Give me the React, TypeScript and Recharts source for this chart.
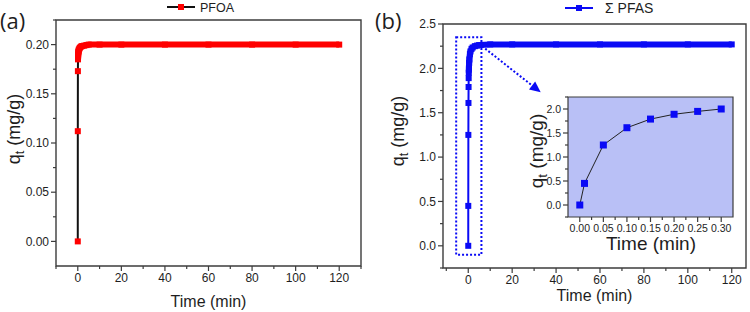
import React from "react";
import { LineChart, Line, XAxis, YAxis, ReferenceArea, ReferenceLine } from "recharts";

// sampling times (min) shared by both runs
const TIME = [0, 0.01, 0.05, 0.1, 0.15, 0.2, 0.25, 0.3, 0.4, 0.5, 0.75, 1, 1.5, 2, 3, 4, 5, 10, 20, 40, 60, 80, 100, 120];
// adsorbed amount q_t (mg/g)
const PFOA_Q = [0, 0.112, 0.173, 0.185, 0.188, 0.19, 0.192, 0.193, 0.194, 0.195, 0.196, 0.197, 0.198, 0.1985, 0.199, 0.1995, 0.2, 0.2, 0.2, 0.2, 0.2, 0.2, 0.2, 0.2];
const PFAS_Q = [0, 0.45, 1.25, 1.61, 1.79, 1.89, 1.95, 2.0, 2.06, 2.1, 2.16, 2.19, 2.22, 2.235, 2.25, 2.257, 2.262, 2.27, 2.27, 2.27, 2.27, 2.27, 2.27, 2.27];
// from this index on the markers are packed so tightly they read as a solid band
const PFOA_BAND_FROM = 3;
const PFAS_BAND_FROM = 6;
const INSET_COUNT = 8;

const X_MAJOR = [0, 20, 40, 60, 80, 100, 120];
const X_MINOR_A = [-10, 10, 30, 50, 70, 90, 110, 130];
const X_MINOR_B = [-10, 10, 30, 50, 70, 90, 110];
const A_Y_MAJOR = [0, 0.05, 0.1, 0.15, 0.2];
const A_Y_MINOR = [0.025, 0.075, 0.125, 0.175, 0.225];
const B_Y_MAJOR = [0, 0.5, 1, 1.5, 2, 2.5];
const B_Y_MINOR = [-0.25, 0.25, 0.75, 1.25, 1.75, 2.25];
const IN_X_MAJOR = [0, 0.05, 0.1, 0.15, 0.2, 0.25, 0.3];
const IN_X_MINOR = [0.025, 0.075, 0.125, 0.175, 0.225, 0.275];
const IN_Y_MAJOR = [0, 0.5, 1, 1.5, 2];
const IN_Y_MINOR = [-0.25, 0.25, 0.75, 1.25, 1.75, 2.25];

const FONT = "'Liberation Sans', Arial, sans-serif";
const AXIS = "#3c3c3c";
const TEXT = "#1e1e1e";
const RED = "#ff0000";
const BLUE = "#0a0af5";
const INSET_BG = "#b9c0f6";

const pfoaData = TIME.map((t, i) => ({ t, q: PFOA_Q[i], band: i >= PFOA_BAND_FROM ? PFOA_Q[i] : null }));
const pfasData = TIME.map((t, i) => ({ t, q: PFAS_Q[i], band: i >= PFAS_BAND_FROM ? PFAS_Q[i] : null }));
const insetData = pfasData.slice(0, INSET_COUNT);

const isIn = (v: number, arr: number[]) => arr.some((a) => Math.abs(a - v) < 1e-9);
const merged = (a: number[], b: number[]) => [...a, ...b].sort((m, n) => m - n);

function yTick(axisX: number, major: number[], digits: number, fontSize = 12) {
  return (p: any) => {
    const v = p.payload.value;
    const big = isIn(v, major);
    return (
      <g>
        <line x1={axisX - (big ? 5 : 3)} x2={axisX} y1={p.y} y2={p.y} stroke={AXIS} strokeWidth={1.2} />
        {big && (
          <text x={axisX - 7} y={p.y} dy="0.35em" textAnchor="end" fontSize={fontSize} fontFamily={FONT} fill={TEXT}>
            {v.toFixed(digits)}
          </text>
        )}
      </g>
    );
  };
}

function xTick(axisY: number, major: number[], digits: number, fontSize = 12) {
  return (p: any) => {
    const v = p.payload.value;
    const big = isIn(v, major);
    return (
      <g>
        <line x1={p.x} x2={p.x} y1={axisY} y2={axisY + (big ? 5 : 3)} stroke={AXIS} strokeWidth={1.2} />
        {big && (
          <text x={p.x} y={axisY + 7} dy="0.75em" textAnchor="middle" fontSize={fontSize} fontFamily={FONT} fill={TEXT}>
            {v.toFixed(digits)}
          </text>
        )}
      </g>
    );
  };
}

const square = (color: string, size: number) => (p: any) => {
  if (p.cy == null || p.cx == null) return <g key={`e${p.index}`} />;
  return <rect key={`s${p.index}`} x={p.cx - size / 2} y={p.cy - size / 2} width={size} height={size} fill={color} />;
};

// dotted arrow from the zoom box towards the inset
const DottedArrow = (p: any) => {
  const { x1, y1, x2, y2 } = p;
  const ang = Math.atan2(y2 - y1, x2 - x1);
  const len = 11;
  const w = 5;
  const bx = x2 - len * Math.cos(ang);
  const by = y2 - len * Math.sin(ang);
  const px = -Math.sin(ang) * w;
  const py = Math.cos(ang) * w;
  return (
    <g>
      <line x1={x1} y1={y1} x2={bx} y2={by} stroke={BLUE} strokeWidth={2} strokeDasharray="2 2" />
      <polygon points={`${x2},${y2} ${bx + px},${by + py} ${bx - px},${by - py}`} fill={BLUE} />
    </g>
  );
};

// plot boxes (chart-local pixels)
const A = { left: 56, top: 20, right: 361, bottom: 266 };
const B = { left: 68, top: 24, right: 371, bottom: 268 };
const IN = { left: 58, top: 17, right: 223, bottom: 137 };

function PanelA() {
  return (
    <LineChart
      width={375}
      height={312}
      data={pfoaData}
      margin={{ top: A.top, left: 0, right: 375 - A.right, bottom: 0 }}
    >
      <XAxis
        dataKey="t"
        type="number"
        domain={[-10, 130]}
        ticks={merged(X_MAJOR, X_MINOR_A)}
        interval={0}
        height={312 - A.bottom}
        axisLine={false}
        tickLine={false}
        tick={xTick(A.bottom, X_MAJOR, 0)}
      />
      <YAxis
        type="number"
        domain={[-0.025, 0.225]}
        ticks={merged(A_Y_MAJOR, A_Y_MINOR)}
        interval={0}
        width={A.left}
        axisLine={false}
        tickLine={false}
        tick={yTick(A.left, A_Y_MAJOR, 2)}
      />
      <ReferenceArea x1={-10} x2={130} y1={-0.025} y2={0.225} fill="none" stroke={AXIS} strokeWidth={1.4} />
      <Line dataKey="q" stroke="#111" strokeWidth={2} dot={false} isAnimationActive={false} />
      <Line dataKey="band" stroke={RED} strokeWidth={6} strokeLinejoin="round" dot={false} isAnimationActive={false} />
      <Line dataKey="q" stroke="none" dot={square(RED, 6)} isAnimationActive={false} />
    </LineChart>
  );
}

function PanelB() {
  return (
    <LineChart
      width={375}
      height={312}
      data={pfasData}
      margin={{ top: B.top, left: 0, right: 375 - B.right, bottom: 0 }}
    >
      <XAxis
        dataKey="t"
        type="number"
        domain={[-11.5, 126.5]}
        ticks={merged(X_MAJOR, X_MINOR_B)}
        interval={0}
        height={312 - B.bottom}
        axisLine={false}
        tickLine={false}
        tick={xTick(B.bottom, X_MAJOR, 0)}
      />
      <YAxis
        type="number"
        domain={[-0.25, 2.5]}
        ticks={merged(B_Y_MAJOR, B_Y_MINOR)}
        interval={0}
        width={B.left}
        axisLine={false}
        tickLine={false}
        tick={yTick(B.left, B_Y_MAJOR, 1)}
      />
      <ReferenceArea x1={-11.5} x2={126.5} y1={-0.25} y2={2.5} fill="none" stroke={AXIS} strokeWidth={1.4} />
      <ReferenceArea x1={-5.5} x2={6} y1={-0.1} y2={2.35} fill="none" stroke={BLUE} strokeWidth={2} strokeDasharray="2 2" />
      <ReferenceLine
        segment={[{ x: 6.3, y: 2.25 }, { x: 33, y: 1.73 }]}
        shape={DottedArrow}
        ifOverflow="visible"
      />
      <Line dataKey="q" stroke={BLUE} strokeWidth={2} dot={false} isAnimationActive={false} />
      <Line dataKey="band" stroke={BLUE} strokeWidth={6} strokeLinejoin="round" dot={false} isAnimationActive={false} />
      <Line dataKey="q" stroke="none" dot={square(BLUE, 6)} isAnimationActive={false} />
    </LineChart>
  );
}

function Inset() {
  return (
    <LineChart
      width={230}
      height={200}
      data={insetData}
      margin={{ top: IN.top, left: 0, right: 230 - IN.right, bottom: 0 }}
    >
      <XAxis
        dataKey="t"
        type="number"
        domain={[-0.025, 0.325]}
        ticks={merged(IN_X_MAJOR, IN_X_MINOR)}
        interval={0}
        height={200 - IN.bottom}
        axisLine={false}
        tickLine={false}
        tick={xTick(IN.bottom, IN_X_MAJOR, 2, 10.5)}
      />
      <YAxis
        type="number"
        domain={[-0.25, 2.25]}
        ticks={merged(IN_Y_MAJOR, IN_Y_MINOR)}
        interval={0}
        width={IN.left}
        axisLine={false}
        tickLine={false}
        tick={yTick(IN.left, IN_Y_MAJOR, 1, 10.5)}
      />
      <ReferenceArea x1={-0.025} x2={0.325} y1={-0.25} y2={2.25} fill={INSET_BG} fillOpacity={1} stroke={AXIS} strokeWidth={1.2} />
      <Line dataKey="q" stroke="#222" strokeWidth={1} dot={square(BLUE, 7)} isAnimationActive={false} />
    </LineChart>
  );
}

function QtTitle({ x, y, size }: { x: number; y: number; size: number }) {
  return (
    <text transform={`translate(${x},${y}) rotate(-90)`} textAnchor="middle" fontSize={size} fontFamily={FONT} fill={TEXT}>
      q<tspan fontSize={size * 0.7} dy={size * 0.2}>t</tspan>
      <tspan dy={-size * 0.2}> (mg/g)</tspan>
    </text>
  );
}

export default function App() {
  return (
    <div style={{ position: "absolute", left: 0, top: 0, width: 750, height: 312, background: "#fff" }}>
      <div style={{ position: "absolute", left: 0, top: 0 }}>
        <PanelA />
      </div>
      <div style={{ position: "absolute", left: 375, top: 0 }}>
        <PanelB />
      </div>
      <div style={{ position: "absolute", left: 510, top: 80 }}>
        <Inset />
      </div>
      <svg width={750} height={312} style={{ position: "absolute", left: 0, top: 0, pointerEvents: "none" }}>
        <text x={0} y={29} fontSize={22} fontFamily="'Open Sans', sans-serif" fill={TEXT}>(a)</text>
        <text x={375} y={29} fontSize={22} fontFamily="'Open Sans', sans-serif" fill={TEXT}>(b)</text>

        <line x1={167} x2={195} y1={7} y2={7} stroke="#111" strokeWidth={2} />
        <rect x={178} y={4} width={6} height={6} fill={RED} />
        <text x={200} y={7} dy="0.36em" fontSize={12.5} fontFamily={FONT} fill={TEXT}>PFOA</text>

        <line x1={565} x2={593} y1={8} y2={8} stroke={BLUE} strokeWidth={2} />
        <rect x={576} y={5} width={6} height={6} fill={BLUE} />
        <text x={605} y={8} dy="0.36em" fontSize={14} fontFamily={FONT} fill={TEXT}>Σ PFAS</text>

        <text x={208.5} y={307} textAnchor="middle" fontSize={16} fontFamily={FONT} fill={TEXT}>Time (min)</text>
        <text x={594.5} y={301} textAnchor="middle" fontSize={16} fontFamily={FONT} fill={TEXT}>Time (min)</text>
        <QtTitle x={20} y={129} size={18} />
        <QtTitle x={404} y={131} size={18} />

        <text x={651} y={250} textAnchor="middle" fontSize={19} fontFamily={FONT} fill={TEXT}>Time (min)</text>
        <QtTitle x={543} y={151} size={19} />
      </svg>
    </div>
  );
}
